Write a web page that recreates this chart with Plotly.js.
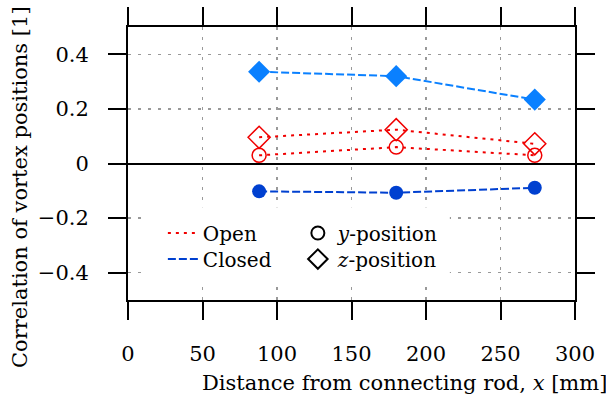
<!DOCTYPE html>
<html>
<head>
<meta charset="utf-8">
<script src="https://cdn.plot.ly/plotly-3.0.1.min.js"></script>
<style>html,body{margin:0;padding:0;background:#fff;}#chart{width:606px;height:401px;}</style>
</head>
<body>
<div id="chart"></div>
<script>
const xPos = [88, 180, 273];
const openY = [0.030, 0.060, 0.030];
const openZ = [0.096, 0.124, 0.072];
const closedY = [-0.102, -0.107, -0.089];
const closedZ = [0.336, 0.320, 0.234];
const yTickVals = [-0.4, -0.2, 0, 0.2, 0.4];
const yTickText = ['\u22120.4', '\u22120.2', '0', '0.2', '0.4'];
const xTickVals = [0, 50, 100, 150, 200, 250, 300];

const FONT = '"DejaVu Serif", serif';
const FS = 21;
const LFS = 20;
const RED = '#f00000';
const LBLUE = '#0a80ff';
const DBLUE = '#0040d0';

const traces = [
  {x: xPos, y: closedZ, mode: 'lines+markers', showlegend: false,
   line: {color: LBLUE, width: 2, dash: '8px,3px'},
   marker: {symbol: 'diamond', size: 17, color: LBLUE}},
  {x: xPos, y: closedY, mode: 'lines+markers', showlegend: false,
   line: {color: DBLUE, width: 2, dash: '8px,3px'},
   marker: {symbol: 'circle', size: 14, color: DBLUE}},
  {x: xPos, y: openZ, mode: 'lines+markers', showlegend: false,
   line: {color: RED, width: 2, dash: '3px,5px'},
   marker: {symbol: 'diamond-open', size: 17, color: RED, line: {width: 1.5, color: RED}}},
  {x: xPos, y: openY, mode: 'lines+markers', showlegend: false,
   line: {color: RED, width: 2, dash: '3px,5px'},
   marker: {symbol: 'circle-open', size: 14, color: RED, line: {width: 1.5, color: RED}}},
  {x: [null], y: [null], mode: 'lines', name: 'Open', legend: 'legend',
   line: {color: RED, width: 2, dash: '3px,5px'}},
  {x: [null], y: [null], mode: 'lines', name: 'Closed', legend: 'legend2',
   line: {color: DBLUE, width: 2, dash: '8px,3px'}},
  {x: [null], y: [null], mode: 'markers', name: '<i>y</i>-position', legend: 'legend3',
   marker: {symbol: 'circle-open', size: 13, color: '#000', line: {width: 2, color: '#000'}}},
  {x: [null], y: [null], mode: 'markers', name: '<i>z</i>-position', legend: 'legend4',
   marker: {symbol: 'diamond-open', size: 15, color: '#000', line: {width: 2, color: '#000'}}}
];

const axisCommon = {
  showline: true, linecolor: '#000', linewidth: 2, mirror: 'ticks',
  ticks: 'outside', ticklen: 18, tickwidth: 2, tickcolor: '#000',
  showgrid: true, gridcolor: '#999', gridwidth: 1.5, griddash: '3px,7px',
  tickfont: {family: FONT, size: FS, color: '#000'}, fixedrange: true
};

function leg(x, y) {
  return {x: x, y: y, xanchor: 'left', yanchor: 'middle', bgcolor: 'rgba(0,0,0,0)',
    font: {family: FONT, size: LFS, color: '#000'}, itemwidth: 30};
}

const layout = {
  width: 606, height: 401,
  margin: {l: 128, r: 31, t: 27, b: 101},
  paper_bgcolor: '#fff', plot_bgcolor: '#fff',
  font: {family: FONT, size: FS, color: '#000'},
  xaxis: Object.assign({}, axisCommon, {
    range: [0, 300], tickmode: 'array', tickvals: xTickVals,
    zeroline: false, ticklabelstandoff: 16
  }),
  yaxis: Object.assign({}, axisCommon, {
    range: [-0.5, 0.5], tickmode: 'array', tickvals: yTickVals, ticktext: yTickText,
    zeroline: true, zerolinecolor: '#000', zerolinewidth: 2, ticklabelstandoff: 15
  }),
  shapes: [
    {type: 'rect', xref: 'x', yref: 'y', x0: 13, x1: 216, y0: -0.16, y1: -0.435,
     fillcolor: '#fff', line: {width: 0}, layer: 'between'}
  ],
  legend: leg(0.078, 0.2454),
  legend2: leg(0.078, 0.150),
  legend3: leg(0.38, 0.2454),
  legend4: leg(0.38, 0.150),
  annotations: [
    {text: 'Distance from connecting rod, <i>x</i> [mm]', xref: 'paper', yref: 'paper',
     x: (404 - 128) / 447, y: -(383 - 300) / 273, xanchor: 'center', yanchor: 'middle',
     showarrow: false, font: {family: FONT, size: FS}},
    {text: 'Correlation of vortex positions [1]', xref: 'paper', yref: 'paper',
     x: -(128 - 20) / 447, y: 1 - (187 - 27) / 273, xanchor: 'center', yanchor: 'middle',
     textangle: -90, showarrow: false, font: {family: FONT, size: FS}}
  ],
  showlegend: true
};

Plotly.newPlot('chart', traces, layout, {displayModeBar: false, staticPlot: true});
</script>
</body>
</html>
